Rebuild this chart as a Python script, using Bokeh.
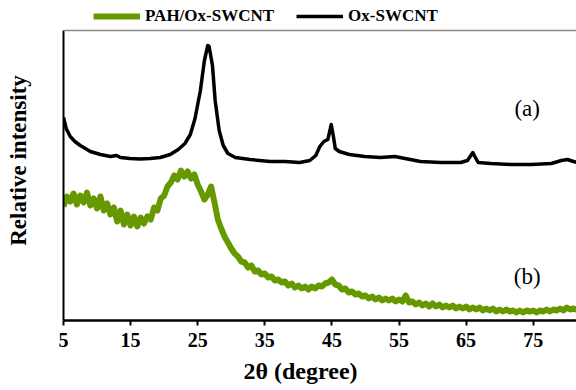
from bokeh.plotting import figure
from bokeh.models import Range1d, FixedTicker, Legend, LegendItem, Label, Span, Title
from bokeh.embed import file_html
from bokeh.resources import INLINE

# ---- data ----
x_ticks = [5, 15, 25, 35, 45, 55, 65, 75]

x_ox = [5.0, 5.4, 6.0, 6.7, 7.5, 9.0, 10.5, 12.0, 12.9, 13.5, 14.9, 16.4, 17.9, 19.4,
        20.9, 22.1, 23.1, 23.9, 24.6, 25.4, 26.0, 26.5, 26.7, 27.2, 27.6, 28.2, 28.8,
        29.5, 30.6, 32.8, 35.8, 38.0, 40.2, 41.7, 42.6, 43.2, 43.8, 44.4, 44.6, 44.9,
        45.2, 45.5, 46.1, 47.6, 49.9, 52.2, 54.4, 55.9, 58.2, 61.2, 64.2, 65.2, 65.7,
        66.0, 66.3, 66.8, 68.7, 71.7, 74.7, 77.7, 79.2, 80.1, 81.0, 81.6]
y_ox = [203, 192, 184, 179, 175, 169, 166, 164, 165, 163, 162, 161.5, 162, 163,
        166, 171, 177, 186, 202, 230, 260, 275, 274, 255, 220, 190, 175,
        167, 163, 161, 159, 159, 158, 160, 165, 174, 179, 181, 187, 196,
        185, 172, 169, 166, 164, 163, 164, 162, 159, 158, 158, 160, 165,
        168, 164, 158, 157, 156, 156, 157, 160, 161, 159, 158]

x_pah = [5.0, 5.5, 6.0, 6.5, 7.0, 7.5, 8.0, 8.5, 9.0, 9.5, 10.0, 10.5, 11.0, 11.5,
         12.0, 12.5, 13.0, 13.5, 14.0, 14.5, 15.0, 15.5, 16.0, 16.5, 17.0, 17.5,
         18.0, 18.5, 19.0, 19.5, 20.0, 20.5, 21.0, 21.5, 22.0, 22.5, 23.0, 23.5,
         24.0, 24.5, 25.0, 25.5, 26.0, 26.5, 27.0, 27.5, 28.0, 28.5, 29.0, 29.5,
         30.0, 30.5, 31.0, 31.5, 32.0, 32.5, 33.0, 33.5, 34.0, 34.5, 35.0, 35.5,
         36.0, 36.5, 37.0, 37.5, 38.0, 38.5, 39.0, 39.5, 40.0, 40.5, 41.0, 41.5,
         42.0, 42.5, 43.0, 43.5, 44.0, 44.5, 45.0, 45.5, 46.0, 46.5, 47.0, 47.5,
         48.0, 48.5, 49.0, 49.5, 50.0, 50.5, 51.0, 51.5, 52.0, 52.5, 53.0, 53.5,
         54.0, 54.5, 55.0, 55.5, 56.0, 56.5, 57.0, 57.5, 58.0, 58.5, 59.0, 59.5,
         60.0, 60.5, 61.0, 61.5, 62.0, 62.5, 63.0, 63.5, 64.0, 64.5, 65.0, 65.5,
         66.0, 66.5, 67.0, 67.5, 68.0, 68.5, 69.0, 69.5, 70.0, 70.5, 71.0, 71.5,
         72.0, 72.5, 73.0, 73.5, 74.0, 74.5, 75.0, 75.5, 76.0, 76.5, 77.0, 77.5,
         78.0, 78.5, 79.0, 79.5, 80.0, 80.5, 81.0, 81.5]
y_pah = [114, 124, 119, 127, 116, 125, 118, 128, 115, 122, 112, 124, 110, 117,
         106, 113, 99, 110, 96, 106, 95, 104, 94, 103, 97, 104,
         101, 113, 110, 122, 125, 134, 138, 145, 141, 150, 144, 149,
         142, 146, 136, 129, 121, 126, 134, 118, 101, 92, 84, 78,
         72, 67, 64, 59, 58, 53, 55, 49, 50, 46, 47, 43,
         44, 40, 41, 38, 39, 35, 37, 33, 35, 32, 34, 31,
         34, 32, 35, 34, 37, 38, 41, 36, 35, 31, 32, 28,
         29, 26, 27, 24, 25, 22, 24, 21, 23, 20, 22, 20,
         22, 19, 21, 19, 25, 18, 19, 16, 18, 15, 17, 14,
         17, 14, 16, 13, 15, 13, 15, 12, 14, 12, 14, 11,
         13, 11, 13, 10, 12, 10, 12, 9, 11, 9, 11, 9,
         10, 8, 10, 8, 10, 9, 10, 8, 10, 9, 11, 9,
         11, 10, 12, 10, 13, 11, 12, 11]

GREEN = "#669900"
FONT = "Liberation Serif"
Y_TOP = 290  # top of the plotting box

p = figure(width=576, height=390, output_backend="svg", toolbar_location=None,
           x_range=Range1d(5, 81.45), y_range=Range1d(0, 320),
           min_border_left=63, min_border_right=0, min_border_top=0,
           min_border_bottom=70)
p.outline_line_color = None
p.xgrid.visible = False
p.ygrid.visible = False
p.background_fill_color = "white"
p.border_fill_color = "white"

g = p.line(x_pah, y_pah, line_color=GREEN, line_width=6, line_join="round")
b = p.line(x_ox, y_ox, line_color="black", line_width=3.5, line_join="round")

# x axis (ticks)
xa = p.xaxis[0]
xa.ticker = FixedTicker(ticks=x_ticks)
xa.minor_tick_line_color = None
xa.major_tick_in = 0
xa.major_tick_out = 5
xa.major_tick_line_width = 2
xa.axis_line_width = 2.5
xa.major_label_text_font = FONT
xa.major_label_text_font_style = "bold"
xa.major_label_text_font_size = "20px"
xa.major_label_text_color = "black"
xa.major_label_standoff = 7

p.add_layout(Title(text="2θ (degree)", align="left", offset=180,
                   text_font=FONT, text_font_style="bold", text_font_size="24px",
                   text_color="black", standoff=13), "below")

# y axis
ya = p.yaxis[0]
ya.ticker = FixedTicker(ticks=[])
ya.bounds = (0, Y_TOP)
ya.minor_tick_line_color = None
ya.major_tick_line_color = None
ya.axis_line_width = 2
ya.major_label_text_font_size = "0px"
ya.axis_label = "Relative intensity"
ya.axis_label_text_font = FONT
ya.axis_label_text_font_style = "bold"
ya.axis_label_text_font_size = "23px"
ya.axis_label_text_color = "black"
ya.axis_label_standoff = 33

# top border line
p.add_layout(Span(location=Y_TOP, dimension="width", line_color="#8a8a8a",
                  line_width=1.5))

legend = Legend(items=[LegendItem(label="PAH/Ox-SWCNT", renderers=[g]),
                       LegendItem(label="Ox-SWCNT", renderers=[b])],
                orientation="horizontal", location=(30, 294),
                border_line_color=None, background_fill_alpha=0,
                label_text_font=FONT, label_text_font_style="bold",
                label_text_font_size="17px", label_text_color="black",
                glyph_width=47, glyph_height=20,
                label_standoff=5, spacing=22, padding=0, margin=0)
p.add_layout(legend)

for txt, yy in [("(a)", 212), ("(b)", 44)]:
    p.add_layout(Label(x=74.1, y=yy, text=txt, text_align="center",
                       text_baseline="middle", text_font=FONT,
                       text_font_size="23px", text_color="black"))

open("out.html", "w").write(file_html(p, INLINE))
